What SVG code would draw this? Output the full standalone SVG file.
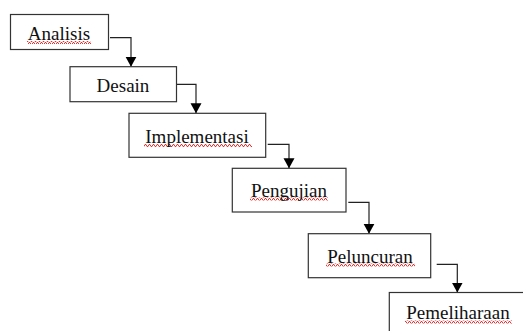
<svg xmlns="http://www.w3.org/2000/svg" width="523" height="331" viewBox="0 0 523 331">
<style>
.box{fill:#fff;stroke:#333;stroke-width:1.2}
.lbl{font-family:"Liberation Serif","Times New Roman",serif;font-size:19px;fill:#111;text-anchor:middle}
.con{fill:none;stroke:#222;stroke-width:1.2}
.sq{fill:url(#wave)}
</style>
<defs>
<marker id="arr" viewBox="0 -6 10 12" markerUnits="userSpaceOnUse" markerWidth="10" markerHeight="12" refX="10" refY="0" orient="auto">
<path d="M0,-5.5 L10,0 L0,5.5 z" fill="#000"/>
</marker>
<pattern id="wave" patternUnits="userSpaceOnUse" width="4" height="3">
<polyline points="0,2.5 1,0.5 2,0.5 3,2.5 4,2.5" fill="none" stroke="#e02020" stroke-width="0.9"/>
</pattern>
</defs>
<rect width="523" height="331" fill="#fff"/>
<g id="connectors">
<path class="con" d="M110,37.7 H131 V66.7" marker-end="url(#arr)"/>
<path class="con" d="M175,84.3 H196 V113.3" marker-end="url(#arr)"/>
<path class="con" d="M267.7,144.3 H289 V168.3" marker-end="url(#arr)"/>
<path class="con" d="M348.3,202.3 H369 V233.7" marker-end="url(#arr)"/>
<path class="con" d="M436.7,264.3 H457.3 V292.5" marker-end="url(#arr)"/>
</g>
<g id="analisis">
<rect class="box" x="10.5" y="14.5" width="98" height="35"/>
<rect class="sq" x="27" y="41" width="64" height="3"/>
<text class="lbl" x="59" y="39.5">Analisis</text>
</g>
<g id="desain">
<rect class="box" x="70" y="66.7" width="106.5" height="35"/>
<text class="lbl" x="123" y="91.7">Desain</text>
</g>
<g id="implementasi">
<rect class="box" x="129" y="113.3" width="136.7" height="44"/>
<rect class="sq" x="144" y="144" width="108" height="3"/>
<text class="lbl" x="197" y="142.8">Implementasi</text>
</g>
<g id="pengujian">
<rect class="box" x="232.3" y="168.3" width="113.7" height="43.7"/>
<rect class="sq" x="250" y="197.5" width="78" height="3"/>
<text class="lbl" x="289" y="196.5">Pengujian</text>
</g>
<g id="peluncuran">
<rect class="box" x="308.3" y="233.7" width="122.4" height="44"/>
<rect class="sq" x="326" y="263.5" width="89" height="3"/>
<text class="lbl" x="370" y="262.5">Peluncuran</text>
</g>
<g id="pemeliharaan">
<rect class="box" x="389.3" y="292.5" width="140" height="50"/>
<rect class="sq" x="405" y="320.5" width="107" height="3"/>
<text class="lbl" x="458" y="319.3">Pemeliharaan</text>
</g>
</svg>
